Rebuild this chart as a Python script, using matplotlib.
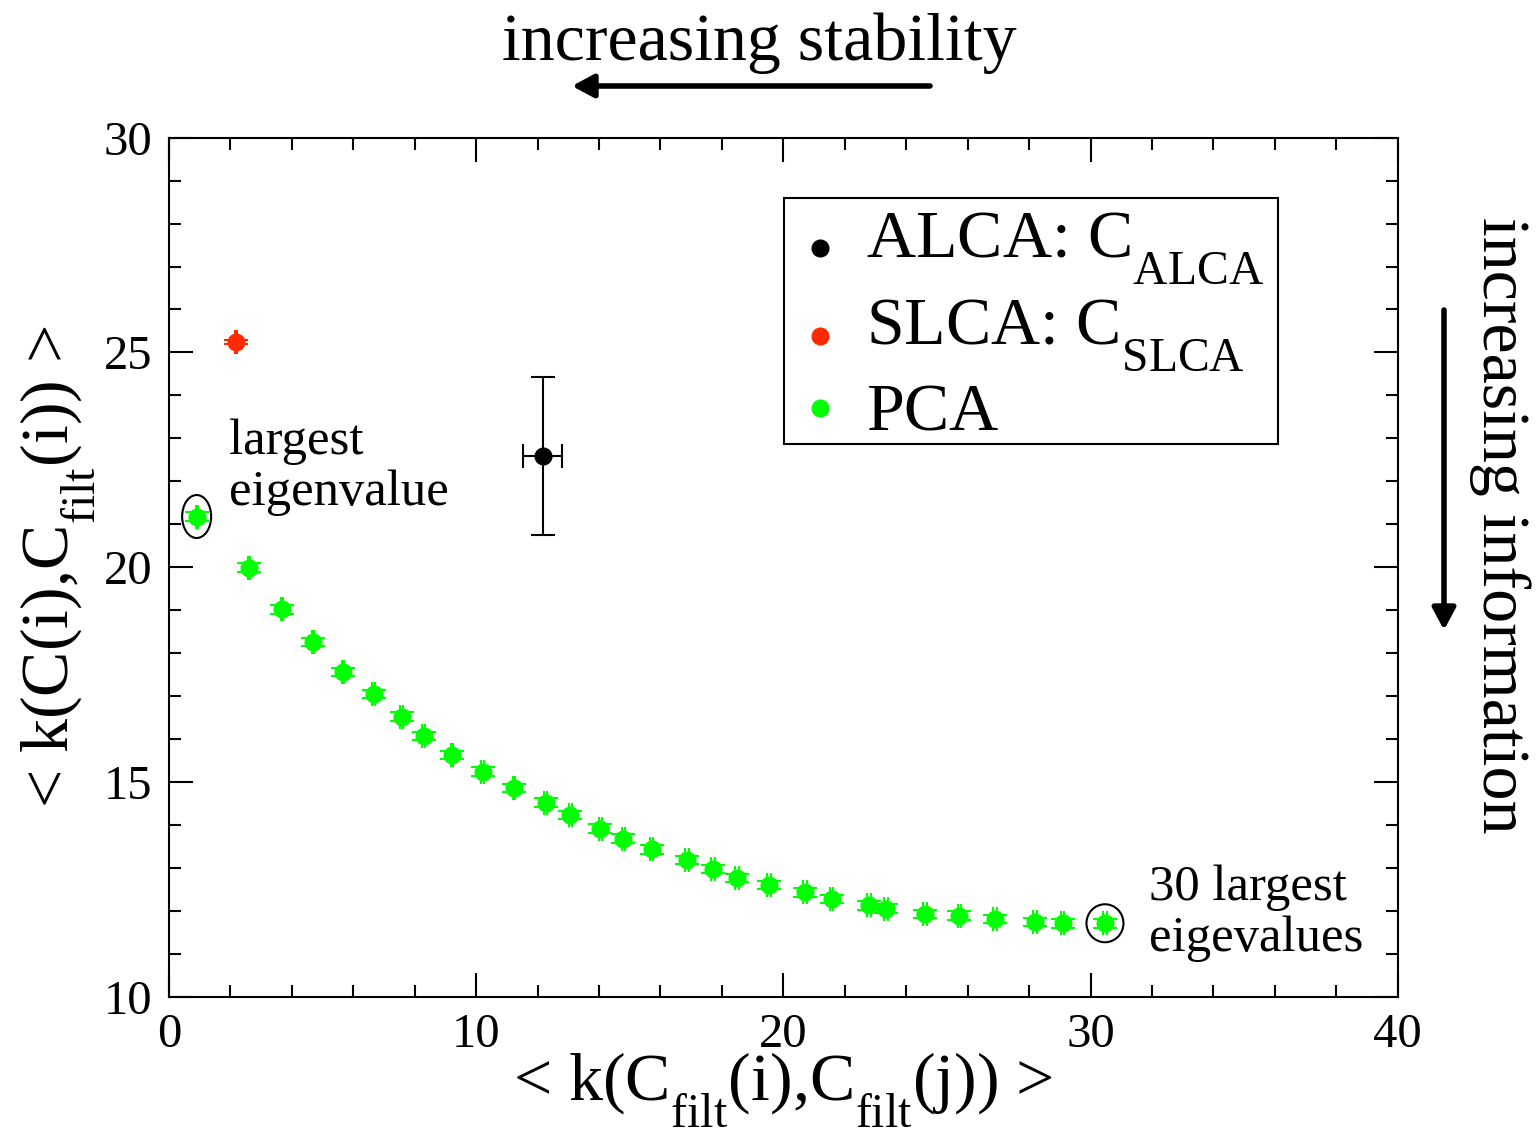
import matplotlib
matplotlib.use("Agg")
import matplotlib.pyplot as plt
from matplotlib.patches import Ellipse, FancyArrowPatch, Rectangle
from matplotlib.ticker import MultipleLocator

plt.rcParams["font.family"] = ["Liberation Serif", "DejaVu Serif"]
plt.rcParams["mathtext.fontset"] = "custom"
plt.rcParams["mathtext.rm"] = "Liberation Serif"
plt.rcParams["mathtext.it"] = "Liberation Serif:italic"
plt.rcParams["mathtext.bf"] = "Liberation Serif:bold"

# deeper subscripts for the serif labels
try:
    from matplotlib import _mathtext as _mt

    class _SerifConstants(_mt.FontConstantsBase):
        sub1 = 0.9

    _mt._font_constant_mapping["Liberation Serif"] = _SerifConstants
except Exception:
    pass

# ---- data -----------------------------------------------------------------
alca_x = [12.16]
alca_y = [22.60]
alca_xerr = [0.64]
alca_yerr = [1.84]

slca_x = [2.18]
slca_y = [25.24]
slca_xerr = [0.04]
slca_yerr = [0.05]

pca_x = [0.90, 2.60, 3.69, 4.70, 5.67, 6.66, 7.57, 8.29, 9.22, 10.21,
         11.24, 12.26, 13.06, 14.04, 14.79, 15.72, 16.86, 17.71, 18.49, 19.54,
         20.70, 21.57, 22.78, 23.34, 24.61, 25.73, 26.89, 28.19, 29.09, 30.47]
pca_y = [21.18, 19.99, 19.02, 18.26, 17.56, 17.05, 16.52, 16.07, 15.63, 15.24,
         14.86, 14.52, 14.23, 13.91, 13.68, 13.43, 13.18, 12.97, 12.76, 12.60,
         12.43, 12.27, 12.13, 12.05, 11.93, 11.89, 11.81, 11.74, 11.71, 11.71]
pca_xerr = [0.03, 0.03, 0.03, 0.03, 0.03, 0.04, 0.04, 0.04, 0.04, 0.04,
            0.04, 0.04, 0.05, 0.05, 0.05, 0.05, 0.06, 0.06, 0.06, 0.06,
            0.06, 0.06, 0.06, 0.06, 0.06, 0.06, 0.06, 0.06, 0.06, 0.06]
pca_yerr = [0.11, 0.11, 0.11, 0.10, 0.10, 0.10, 0.10, 0.10, 0.10, 0.10,
            0.10, 0.10, 0.10, 0.10, 0.10, 0.10, 0.10, 0.10, 0.10, 0.10,
            0.10, 0.10, 0.10, 0.10, 0.10, 0.10, 0.10, 0.10, 0.10, 0.10]

legend_labels = [r"ALCA: C$_{\mathrm{ALCA}}$", r"SLCA: C$_{\mathrm{SLCA}}$", "PCA"]
x_ticks = [0, 10, 20, 30, 40]
y_ticks = [10, 15, 20, 25, 30]

# ---- figure ---------------------------------------------------------------
W, H = 1538, 1133
AX_L, AX_R, AX_T, AX_B = 169, 1397.7, 137.7, 996.7
fig = plt.figure(figsize=(W / 100, H / 100), dpi=100)
fig.subplots_adjust(left=AX_L / W, right=AX_R / W,
                    bottom=1 - AX_B / H, top=1 - AX_T / H)
ax = fig.add_subplot(111)


def axfrac(px, py):
    """pixel position (from top-left of the figure) -> axes fraction"""
    return (px - AX_L) / (AX_R - AX_L), (AX_B - py) / (AX_B - AX_T)


black = "#000000"
red = "#ff2a00"
green = "#00ff00"
colors = [black, red, green]

common = dict(fmt="o", markersize=12, elinewidth=1.5, capsize=8.6,
              capthick=1.5)
ax.errorbar(alca_x, alca_y, xerr=alca_xerr, yerr=alca_yerr, color=black,
            zorder=3, **common)
ax.errorbar(slca_x, slca_y, xerr=slca_xerr, yerr=slca_yerr, color=red,
            zorder=3, **common)
ax.errorbar(pca_x, pca_y, xerr=pca_xerr, yerr=pca_yerr, color=green,
            zorder=3, **common)

ax.set_xlim(0, 40)
ax.set_ylim(10, 30)
ax.set_xticks(x_ticks)
ax.set_yticks(y_ticks)
ax.xaxis.set_minor_locator(MultipleLocator(2))
ax.yaxis.set_minor_locator(MultipleLocator(1))
ax.tick_params(which="both", direction="in", top=True, right=True,
               width=1.5, labelsize=35, colors="black")
ax.tick_params(which="major", length=17, pad=12)
ax.tick_params(which="minor", length=8.6)
for s in ax.spines.values():
    s.set_linewidth(1.5)

ax.set_xlabel(r"< k(C$_{\mathrm{filt}}$(i),C$_{\mathrm{filt}}$(j)) >",
              fontsize=49, labelpad=-5)
ax.set_ylabel(r"< k(C(i),C$_{\mathrm{filt}}$(i)) >", fontsize=49,
              labelpad=4)

# rings around the first and last principal-component points
ax.add_patch(Ellipse((pca_x[0], pca_y[0]), width=29 / 30.72,
                     height=43 / 42.95, fill=False, lw=1.5, ec="black",
                     zorder=4))
ax.add_patch(Ellipse((pca_x[-1], pca_y[-1]), width=37 / 30.72,
                     height=38 / 42.95, fill=False, lw=1.5, ec="black",
                     zorder=4))

ax.text(1.95, 21.45, "largest\neigenvalue", fontsize=36.5,
        ha="left", va="baseline", linespacing=1.13)
ax.text(31.9, 11.07, "30 largest\neigevalues", fontsize=36.5,
        ha="left", va="baseline", linespacing=1.13)

# legend box with one marker and label per series
x0, y0 = axfrac(784, 444)
x1, y1 = axfrac(1278, 198)
ax.add_patch(Rectangle((x0, y0), x1 - x0, y1 - y0, transform=ax.transAxes,
                       fill=True, fc="white", ec="black", lw=1.5, zorder=5))
marker_rows = [248, 336, 408]
text_rows = [256.7, 344, 430.7]
for c, lab, my, ty in zip(colors, legend_labels, marker_rows, text_rows):
    mx, myf = axfrac(820, my)
    ax.plot([mx], [myf], "o", color=c, markersize=12,
            transform=ax.transAxes, zorder=6, clip_on=False)
    tx, tyf = axfrac(866, ty)
    ax.text(tx, tyf, lab, fontsize=49, ha="left", va="baseline",
            transform=ax.transAxes, zorder=6)

# direction hints outside the axes
fig.text(759 / W, 1 - 60 / H, "increasing stability", fontsize=49,
         ha="center", va="baseline")
fig.text(1500 / W, 1 - 525 / H, "increasing information", fontsize=49,
         ha="center", va="center", rotation=-90)

arrow = dict(arrowstyle="-|>,head_length=13,head_width=7", lw=4,
             color="black", shrinkA=0, shrinkB=0, mutation_scale=1)
fig.add_artist(FancyArrowPatch((930 / W, 1 - 86 / H), (572 / W, 1 - 86 / H),
                               transform=fig.transFigure, **arrow))
fig.add_artist(FancyArrowPatch((1444 / W, 1 - 310 / H), (1444 / W, 1 - 630 / H),
                               transform=fig.transFigure, **arrow))

fig.savefig("out.png", dpi=100)
